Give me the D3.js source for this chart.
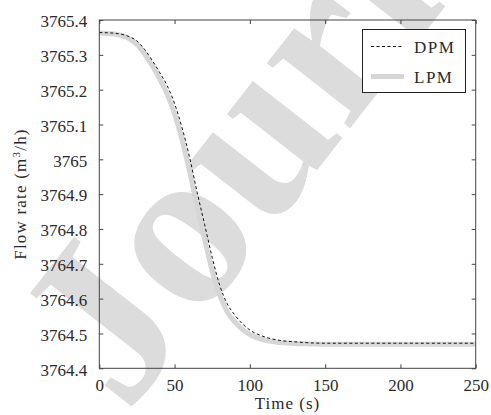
<!DOCTYPE html>
<html>
<head>
<meta charset="utf-8">
<script src="https://cdn.jsdelivr.net/npm/d3@7/dist/d3.min.js"></script>
<style>
  html, body { margin: 0; padding: 0; background: #fff; }
  svg { display: block; }
  text { font-family: "Liberation Serif", serif; fill: #2a2a2a; }
</style>
</head>
<body>
<svg id="chart" width="491" height="415"></svg>
<script>
// Time samples (s)
const times = [0, 10, 20, 25, 30, 35, 40, 45, 50, 55, 60, 65, 70, 75, 80, 85, 90, 95, 100, 110, 120, 130, 140, 150, 200, 250];
// Distributed-parameter model flow rate (m3/h)
const dpmFlow = [3765.364, 3765.362, 3765.352, 3765.340, 3765.316, 3765.285, 3765.250, 3765.212, 3765.160, 3765.090,
                 3765.005, 3764.905, 3764.812, 3764.718, 3764.638, 3764.585, 3764.553, 3764.528, 3764.510, 3764.490,
                 3764.480, 3764.476, 3764.473, 3764.472, 3764.472, 3764.472];
// Lumped-parameter model flow rate (m3/h)
const lpmFlow = [3765.363, 3765.360, 3765.346, 3765.330, 3765.303, 3765.270, 3765.232, 3765.188, 3765.130, 3765.055,
                 3764.965, 3764.865, 3764.770, 3764.680, 3764.610, 3764.562, 3764.533, 3764.512, 3764.497, 3764.481,
                 3764.474, 3764.471, 3764.470, 3764.469, 3764.469, 3764.469];
const xTicks = [0, 50, 100, 150, 200, 250];
const yTicks = [3764.4, 3764.5, 3764.6, 3764.7, 3764.8, 3764.9, 3765, 3765.1, 3765.2, 3765.3, 3765.4];
const seriesNames = ["DPM", "LPM"];

const FONT = "'Liberation Serif', serif";
const svg = d3.select("#chart");
const plotL = 99.3, plotT = 20, plotR = 475.7, plotB = 368.3;

const x = d3.scaleLinear().domain([0, 250]).range([plotL, plotR]);
const y = d3.scaleLinear().domain([3764.4, 3765.4]).range([plotB, plotT]);

// Watermark
svg.append("text")
  .attr("transform", "translate(126,415) rotate(-52)")
  .style("font-family", FONT)
  .style("font-weight", "bold")
  .style("font-size", "230px")
  .style("fill", "#dcdcdc")
  .text("Journal Pre-proof");

const toPts = vals => times.map((t, i) => [t, vals[i]]);
const line = d3.line().x(d => x(d[0])).y(d => y(d[1])).curve(d3.curveMonotoneX);

const plot = svg.append("g");
plot.append("path").datum(toPts(lpmFlow))
  .attr("d", line).attr("fill", "none")
  .attr("stroke", "#d6d6d6").attr("stroke-width", 5);
plot.append("path").datum(toPts(dpmFlow))
  .attr("d", line).attr("fill", "none")
  .attr("stroke", "#111").attr("stroke-width", 1).attr("stroke-dasharray", "3,2.5");

// Axes with inward ticks on all four sides
const axisColor = "#444";
const tickLen = 4;
function styleAxis(g) {
  g.attr("font-family", null);
  g.select(".domain").remove();
  g.selectAll(".tick line").attr("stroke", axisColor);
  g.selectAll(".tick text").attr("fill", "#2a2a2a").style("font-family", FONT).style("font-size", "17px");
}
svg.append("g").attr("transform", `translate(0,${plotB})`)
  .call(d3.axisBottom(x).tickValues(xTicks).tickSize(-tickLen).tickPadding(10).tickFormat(d3.format("d")))
  .call(styleAxis)
  .call(g => g.selectAll(".tick text").attr("dy", "0.75em"));
svg.append("g").attr("transform", `translate(0,${plotT})`)
  .call(d3.axisTop(x).tickValues(xTicks).tickSize(-tickLen).tickFormat(""))
  .call(styleAxis);
svg.append("g").attr("transform", `translate(${plotL},0)`)
  .call(d3.axisLeft(y).tickValues(yTicks).tickSize(-tickLen).tickPadding(12).tickFormat(d => String(+d.toFixed(1))))
  .call(styleAxis)
  .call(g => g.selectAll(".tick text").attr("dy", "0.4em"));
svg.append("g").attr("transform", `translate(${plotR},0)`)
  .call(d3.axisRight(y).tickValues(yTicks).tickSize(-tickLen).tickFormat(""))
  .call(styleAxis);

svg.append("rect")
  .attr("x", plotL).attr("y", plotT).attr("width", plotR - plotL).attr("height", plotB - plotT)
  .attr("fill", "none").attr("stroke", axisColor).attr("stroke-width", 1);

// Axis titles
svg.append("text")
  .attr("x", (plotL + plotR) / 2).attr("y", 408.5)
  .attr("text-anchor", "middle").style("font-family", FONT).style("font-size", "17px").style("letter-spacing", "1px")
  .text("Time (s)");
const yTitle = svg.append("text")
  .attr("transform", "translate(26,194) rotate(-90)")
  .attr("text-anchor", "middle").style("font-family", FONT).style("font-size", "17px").style("letter-spacing", "1.2px");
yTitle.append("tspan").text("Flow rate (m");
yTitle.append("tspan").attr("dy", -6).style("font-size", "11px").text("3");
yTitle.append("tspan").attr("dy", 6).text("/h)");

// Legend
const lg = svg.append("g");
lg.append("rect").attr("x", 362.5).attr("y", 29.5).attr("width", 103).attr("height", 63)
  .attr("fill", "#fff").attr("stroke", "#222").attr("stroke-width", 1);
const legendRows = [
  { name: seriesNames[0], y: 46.5, stroke: "#111", width: 1, dash: "3,2.5" },
  { name: seriesNames[1], y: 76.5, stroke: "#d6d6d6", width: 5, dash: null }
];
legendRows.forEach(r => {
  lg.append("line").attr("x1", 371).attr("x2", 404).attr("y1", r.y).attr("y2", r.y)
    .attr("stroke", r.stroke).attr("stroke-width", r.width).attr("stroke-dasharray", r.dash);
  lg.append("text").attr("x", 414).attr("y", r.y + 6)
    .style("font-family", FONT).style("font-size", "17px").style("letter-spacing", "1.5px").text(r.name);
});
</script>
</body>
</html>
